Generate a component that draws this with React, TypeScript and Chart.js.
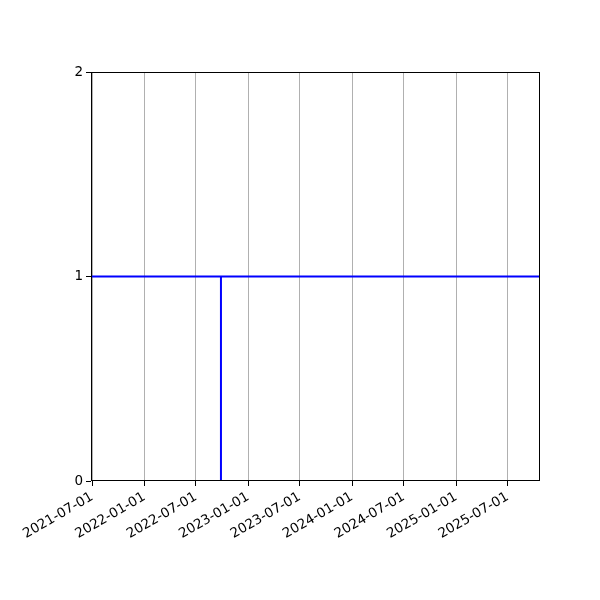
import { Chart, registerables } from "chart.js";
import { useEffect, useRef } from "react";

Chart.register(...registerables);

// step signal: stays at 1, drops to 0 for an instant on 2022-09-27
const dates = ["2021-06-27", "2022-09-27", "2022-09-27", "2022-09-27", "2025-10-23"];
const values = [1, 1, 0, 1, 1];
const xTickDates = [
  "2021-07-01", "2022-01-01", "2022-07-01", "2023-01-01", "2023-07-01",
  "2024-01-01", "2024-07-01", "2025-01-01", "2025-07-01",
];
const yTicks = [0, 1, 2];

const ms = (d: string) => Date.parse(d + "T00:00:00Z");
const fmt = (v: number) => new Date(v).toISOString().slice(0, 10);

const font = { family: "DejaVu Sans", size: 13.5 };

const frame = {
  id: "frame",
  afterDraw(chart: Chart) {
    const { ctx, chartArea: a } = chart;
    ctx.save();
    ctx.strokeStyle = "#000";
    ctx.lineWidth = 1;
    ctx.strokeRect(a.left + 0.5, a.top + 0.5, a.right - a.left - 1, a.bottom - a.top - 1);
    ctx.restore();
  },
};

export default function App() {
  const ref = useRef<HTMLCanvasElement>(null);

  useEffect(() => {
    if (!ref.current) return;
    const pts = dates.map((d, i) => ({ x: ms(d), y: values[i] }));
    const chart = new Chart(ref.current, {
      type: "line",
      data: {
        datasets: [
          {
            data: pts,
            borderColor: "#0000ff",
            borderWidth: 2,
            pointRadius: 0,
            tension: 0,
            fill: false,
          },
        ],
      },
      options: {
        responsive: false,
        animation: false,
        layout: { padding: { left: 0, top: 72, right: 60, bottom: 0 } },
        plugins: { legend: { display: false }, tooltip: { enabled: false } },
        scales: {
          x: {
            type: "linear",
            min: ms(dates[0]),
            max: ms(dates[dates.length - 1]),
            afterBuildTicks: (s: any) => {
              s.ticks = xTickDates.map((d) => ({ value: ms(d) }));
            },
            afterFit: (s: any) => {
              s.height = 119;
            },
            grid: { color: "#b0b0b0", lineWidth: 1, tickColor: "#000", tickLength: 5, drawTicks: true },
            border: { display: false },
            ticks: {
              color: "#000",
              font,
              autoSkip: false,
              minRotation: 30,
              maxRotation: 30,
              padding: 3,
              callback: (v: any) => fmt(Number(v)),
            },
          },
          y: {
            min: 0,
            max: 2,
            afterBuildTicks: (s: any) => {
              s.ticks = yTicks.map((v) => ({ value: v }));
            },
            afterFit: (s: any) => {
              s.width = 91;
            },
            grid: { drawOnChartArea: false, tickColor: "#000", tickLength: 5 },
            border: { display: false },
            ticks: { color: "#000", font, padding: 3 },
          },
        },
      },
      plugins: [frame],
    });
    return () => chart.destroy();
  }, []);

  return (
    <div style={{ position: "fixed", left: 0, top: 0, width: 600, height: 600, background: "#fff" }}>
      <canvas ref={ref} width={600} height={600} />
    </div>
  );
}
